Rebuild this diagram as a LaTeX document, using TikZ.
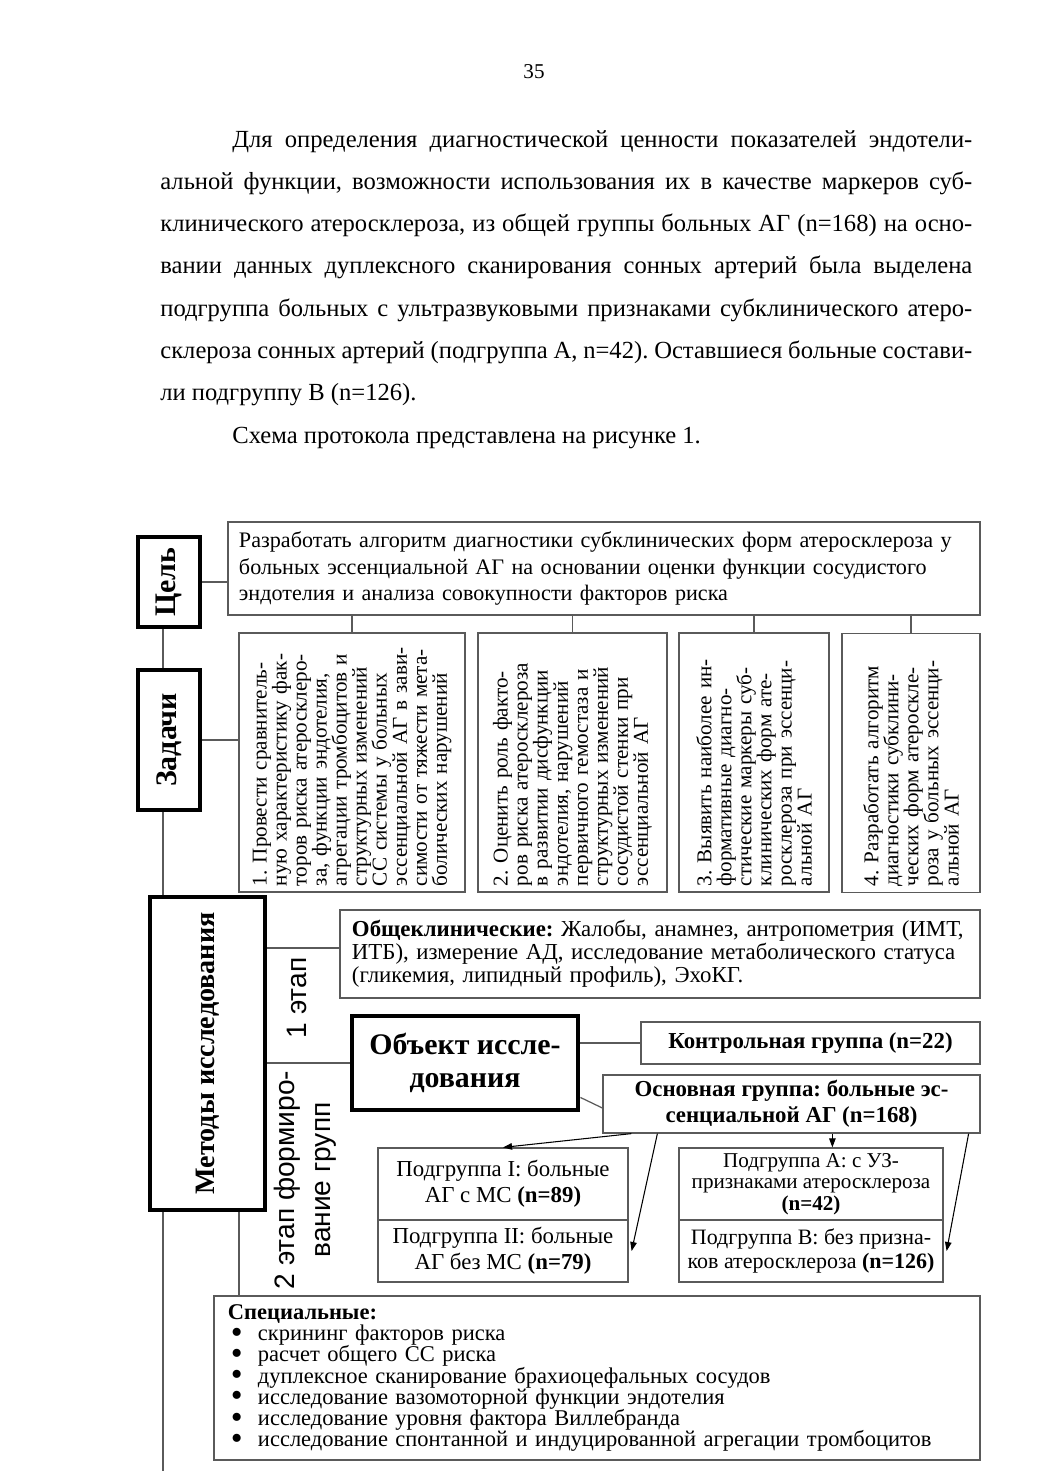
\documentclass[tikz,border=0pt]{standalone}
\usepackage{fontspec}
\setmainfont{Liberation Serif}
\setsansfont{Liberation Sans}
\usetikzlibrary{arrows.meta,calc}
\definecolor{LineGray}{HTML}{5A5A5A}
\frenchspacing
\newcommand{\fullline}[2]{\makebox[#1][s]{#2}}
\newcommand{\specitem}[1]{\hspace*{0.6mm}\makebox[5.4mm][l]{\raisebox{-0.25ex}{\scalebox{1.5}{\textbullet}}}#1}
\tikzset{
  link/.style={draw=LineGray,line width=0.7pt},
  splitarrow/.style={-{Triangle[length=1.8mm,width=1.3mm]},draw=black,line width=0.6pt},
  thinbox/.style={draw=LineGray,line width=0.7pt,inner sep=0pt,align=center},
  headbox/.style={draw=black,line width=2.8pt,rotate=90,inner sep=0pt,font=\fontsize{17}{19}\selectfont\bfseries},
  taskbox/.style={thinbox,rotate=90,align=left,minimum width=51.8mm,text width=49.4mm,font=\fontsize{12}{11.4}\selectfont},
  stage/.style={rotate=90,inner sep=0pt,align=center,font=\sffamily\fontsize{16}{20.4}\selectfont},
  bodyline/.style={anchor=base west,inner sep=0pt,font=\fontsize{14}{24}\selectfont}
}
\begin{document}
\begin{tikzpicture}[x=0.2mm,y=-0.2mm]
  \fill[white] (0,0) rectangle (1039,1471);
  \useasboundingbox (0,0) rectangle (1039,1471);

  % Page number and running text above the figure.
  \node[anchor=base,inner sep=0pt,font=\fontsize{12}{14}\selectfont] (pagenum) at (534,78) {35};
  \node[bodyline] (par1) at (232,147)
    {\fullline{148mm}{Для определения диагностической ценности показателей эндотели-}};
  \node[bodyline] (par2) at (160,189.3)
    {\fullline{162.4mm}{альной функции, возможности использования их в качестве маркеров суб-}};
  \node[bodyline] (par3) at (160,231.6)
    {\fullline{162.4mm}{клинического атеросклероза, из общей группы больных АГ (n=168) на осно-}};
  \node[bodyline] (par4) at (160,273.9)
    {\fullline{162.4mm}{вании данных дуплексного сканирования сонных артерий была выделена}};
  \node[bodyline] (par5) at (160,316.2)
    {\fullline{162.4mm}{подгруппа больных с ультразвуковыми признаками субклинического атеро-}};
  \node[bodyline] (par6) at (160,358.5)
    {\fullline{162.4mm}{склероза сонных артерий (подгруппа А, n=42). Оставшиеся больные состави-}};
  \node[bodyline] (par7) at (160,400.8) {ли подгруппу В (n=126).};
  \node[bodyline] (par8) at (232,443.1) {Схема протокола представлена на рисунке 1.};

  % Goal and tasks.
  \node[headbox,minimum width=18mm,minimum height=12.4mm] (cel) at (169,582) {Цель};
  \node[thinbox,align=left,minimum width=150.4mm,minimum height=18.6mm,text width=146mm,
    font=\fontsize{12.6}{15.2}\selectfont] (goal) at (604,568.5)
    {Разработать алгоритм диагностики субклинических форм атеросклероза у\\
     больных эссенциальной АГ на основании оценки функции сосудистого\\
     эндотелия и анализа совокупности факторов риска};
  \node[headbox,minimum width=28mm,minimum height=12.4mm] (zad) at (169,740) {Задачи};

  \node[taskbox,minimum height=45.2mm] (task1) at (352,762.5)
    {1. Провести сравнитель-\\ную характеристику фак-\\торов риска атеросклеро-\\за, функции эндотелия,\\
     агрегации тромбоцитов и\\структурных изменений\\СС системы у больных\\эссенциальной АГ в зави-\\
     симости от тяжести мета-\\болических нарушений};
  \node[taskbox,minimum height=37.8mm] (task2) at (572.5,762.5)
    {2. Оценить роль факто-\\ров риска атеросклероза\\в развитии дисфункции\\эндотелия, нарушений\\
     первичного гемостаза и\\структурных изменений\\сосудистой стенки при\\эссенциальной АГ};
  \node[taskbox,minimum height=30mm] (task3) at (754,762.5)
    {3. Выявить наиболее ин-\\формативные диагно-\\стические маркеры суб-\\клинических форм ате-\\
     росклероза при эссенци-\\альной АГ};
  \node[taskbox,minimum height=27.6mm] (task4) at (911,763)
    {4. Разработать алгоритм\\диагностики субклини-\\ческих форм атероскле-\\роза у больных эссенци-\\
     альной АГ};

  % Methods.
  \node[headbox,minimum width=62.6mm,minimum height=23mm,font=\fontsize{16}{19}\selectfont\bfseries]
    (met) at (207.5,1053.5) {Методы исследования};
  \node[thinbox,align=left,minimum width=128mm,minimum height=17.6mm,text width=123.2mm,
    font=\fontsize{13}{13}\selectfont] (obsh) at (660,954)
    {\fullline{123.2mm}{\textbf{Общеклинические:} Жалобы, анамнез, антропометрия (ИМТ,}\\
     \fullline{123.2mm}{ИТБ), измерение АД, исследование метаболического статуса}\\
     (гликемия, липидный профиль), ЭхоКГ.};
  \node[stage] (stage1) at (297,998) {1 этап};
  \node[stage] (stage2) at (305,1180) {2 этап формиро-\\вание групп};

  \node[thinbox,draw=black,line width=2.8pt,minimum width=45.2mm,minimum height=18.8mm,
    font=\fontsize{17}{18.7}\selectfont\bfseries] (obj) at (465,1063) {Объект иссле-\\дования};
  \node[thinbox,minimum width=67.8mm,minimum height=8.4mm,font=\fontsize{13}{14}\selectfont\bfseries]
    (kont) at (810.5,1043) {Контрольная группа (n=22)};
  \node[thinbox,minimum width=75.4mm,minimum height=11.6mm,font=\fontsize{13}{14.7}\selectfont\bfseries]
    (osn) at (791.5,1104) {Основная группа: больные эс-\\сенциальной АГ (n=168)};

  \node[thinbox,minimum width=50mm,minimum height=14.4mm,font=\fontsize{13}{14.7}\selectfont]
    (sub1) at (503,1184) {Подгруппа I: больные\\АГ с МС \textbf{(n=89)}};
  \node[thinbox,minimum width=50mm,minimum height=12.4mm,font=\fontsize{13}{14.7}\selectfont]
    (sub2) at (503,1251) {Подгруппа II: больные\\АГ без МС \textbf{(n=79)}};
  \node[thinbox,minimum width=52.8mm,minimum height=14.4mm,font=\fontsize{12}{12.2}\selectfont]
    (subA) at (811,1184) {Подгруппа А: с УЗ-\\признаками атеросклероза\\\textbf{(n=42)}};
  \node[thinbox,minimum width=52.8mm,minimum height=12.4mm,font=\fontsize{12.5}{13.6}\selectfont]
    (subB) at (811,1251) {Подгруппа В: без призна-\\ков атеросклероза \textbf{(n=126)}};

  \node[thinbox,align=left,minimum width=153.2mm,minimum height=32.8mm,text width=147.6mm,
    font=\fontsize{12.8}{12.1}\selectfont] (spec) at (597,1378)
    {\textbf{Специальные:}\\
     \specitem{скрининг факторов риска}\\
     \specitem{расчет общего СС риска}\\
     \specitem{дуплексное сканирование брахиоцефальных сосудов}\\
     \specitem{исследование вазомоторной функции эндотелия}\\
     \specitem{исследование уровня фактора Виллебранда}\\
     \specitem{исследование спонтанной и индуцированной агрегации тромбоцитов}};

  % Connectors (rotated boxes: south = right side, east = top, west = bottom).
  \coordinate (spine) at (163,0);
  \coordinate (spine2) at (239,0);
  \coordinate (spineend) at (163,1471);
  \draw[link] (cel.south) -- (cel.south -| goal.west);
  \draw[link] (cel.west -| spine) -- (zad.east -| spine);
  \draw[link] (zad.west -| spine) -- (met.east -| spine);
  \draw[link] (met.west -| spine) -- (spineend);
  \draw[link] (zad.south) -- (zad.south -| task1.north);
  \foreach \t in {task1,task2,task3,task4}
    \draw[link] (\t.east) -- (\t.east |- goal.south);
  \draw[link] ($(obsh.west)+(0,-6)$) coordinate (toobsh) -- (toobsh -| met.south);
  \draw[link] (met.south |- obj.west) -- (obj.west);
  \draw[link] (met.west -| spine2) -- (spec.north -| spine2);
  \draw[link] (obj.east |- kont.west) -- (kont.west);
  \draw[link] ($(obj.south east)+(0,-15)$) -- ($(osn.west)+(0,4)$);

  \draw[splitarrow] ($(osn.south west)+(29,0)$) -- (sub1.north);
  \draw[splitarrow] ($(osn.south west)+(55,0)$) -- ($(sub2.east)+(3,0)$);
  \draw[splitarrow] ($(osn.south west)+(230,0)$) coordinate (tosubA) -- (tosubA |- subA.north);
  \draw[splitarrow] ($(osn.south east)+(-12,0)$) -- ($(subB.east)+(3,0)$);
\end{tikzpicture}
\end{document}
